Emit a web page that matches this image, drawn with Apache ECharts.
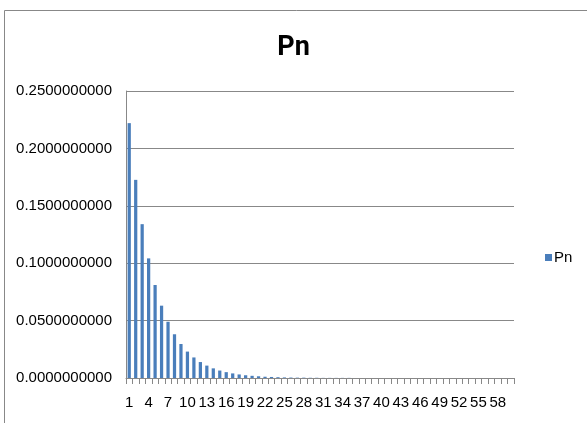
<!DOCTYPE html>
<html>
<head>
<meta charset="utf-8">
<script src="https://cdn.jsdelivr.net/npm/echarts@6/dist/echarts.min.js"></script>
<style>
  html, body { margin: 0; padding: 0; background: #fff; }
  #main { width: 587px; height: 423px; }
</style>
</head>
<body>
<div id="main"></div>
<script>
// n = 1..60
var categories = [];
for (var i = 1; i <= 60; i++) categories.push(String(i));

// Pn
var pnValues = [
  0.2220, 0.1726, 0.1340, 0.1042, 0.0810, 0.0630, 0.0490, 0.0381, 0.0296, 0.0230,
  0.0179, 0.0139, 0.0108, 0.0084, 0.0065, 0.0051, 0.0040, 0.0031, 0.0024, 0.0019,
  0.0015, 0.0011, 0.0009, 0.0007, 0.0005, 0.0004, 0.0003, 0.0003, 0.0002, 0.0002,
  0.0001, 0.0001, 0.0001, 0.0001, 0.0001, 0, 0, 0, 0, 0,
  0, 0, 0, 0, 0, 0, 0, 0, 0, 0,
  0, 0, 0, 0, 0, 0, 0, 0, 0, 0
];

var chart = echarts.init(document.getElementById('main'));

var option = {
  animation: false,
  backgroundColor: '#fff',
  title: {
    text: 'Pn',
    left: 'center',
    top: 30,
    textStyle: {
      fontFamily: 'Roboto',
      fontWeight: 'bold',
      fontSize: 27,
      color: '#000'
    }
  },
  // outer chart frame
  graphic: [
    {
      type: 'rect',
      shape: { x: 4.5, y: 10.5, width: 600, height: 430 },
      style: { fill: 'none', stroke: '#888', lineWidth: 1 },
      silent: true
    }
  ],
  legend: {
    data: ['Pn'],
    orient: 'vertical',
    left: 540,
    top: 245,
    itemWidth: 7,
    itemHeight: 7,
    icon: 'rect',
    textStyle: { fontFamily: 'Liberation Sans', fontSize: 15, color: '#000', padding: [0, 0, 0, -3] }
  },
  grid: {
    left: 126,
    right: 73,
    top: 91,
    bottom: 45,
    containLabel: false
  },
  xAxis: {
    type: 'category',
    data: categories,
    boundaryGap: true,
    axisLine: { lineStyle: { color: '#888', width: 1 } },
    axisTick: { show: true, interval: 0, length: 6, lineStyle: { color: '#888' } },
    axisLabel: {
      interval: 2,
      margin: 17,
      fontFamily: 'Liberation Sans',
      fontSize: 15,
      color: '#000'
    },
    splitLine: { show: false }
  },
  yAxis: {
    type: 'value',
    min: 0,
    max: 0.25,
    interval: 0.05,
    axisLine: { show: true, lineStyle: { color: '#888', width: 1 } },
    axisTick: { show: false },
    axisLabel: {
      margin: 14,
      fontFamily: 'Liberation Sans',
      fontSize: 15,
      color: '#000',
      formatter: function (v) { return v.toFixed(10); }
    },
    splitLine: { show: true, lineStyle: { color: '#888', width: 1 } }
  },
  series: [
    {
      name: 'Pn',
      type: 'bar',
      data: pnValues,
      barWidth: '50%',
      itemStyle: { color: '#4a7ebb' }
    }
  ]
};

chart.setOption(option);
</script>
</body>
</html>
